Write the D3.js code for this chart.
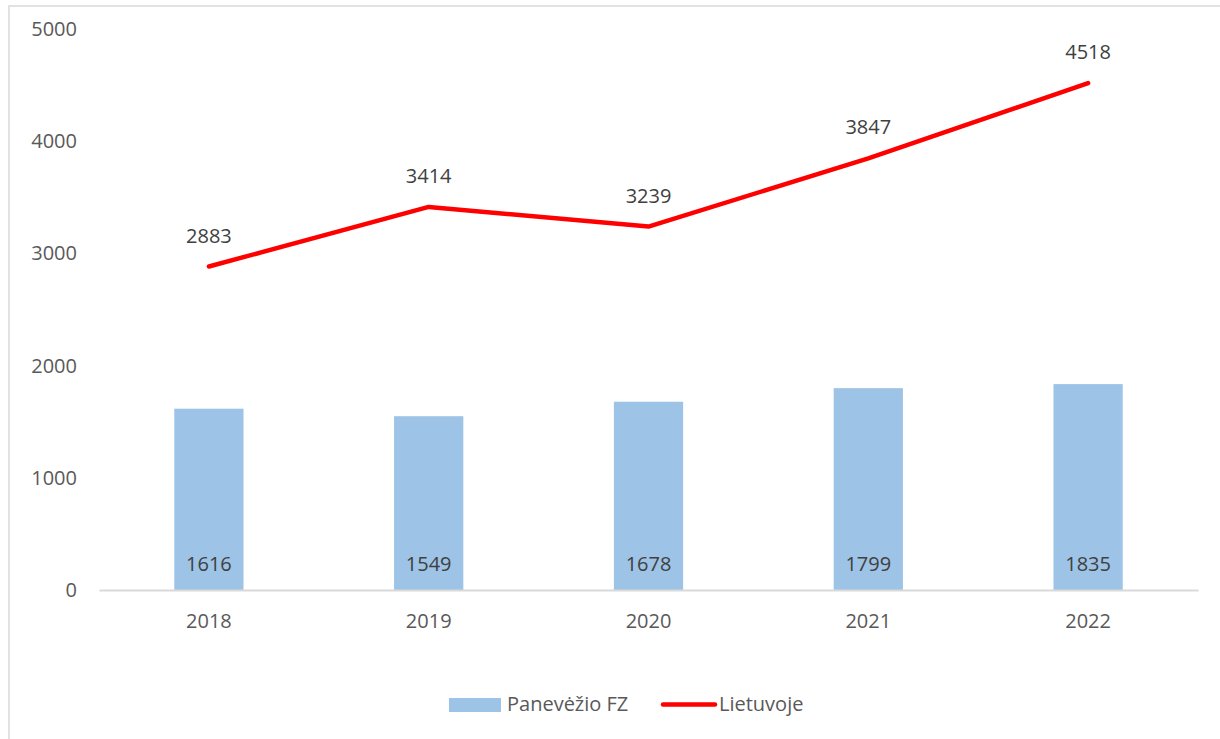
<!DOCTYPE html>
<html><head><meta charset="utf-8">
<script src="https://cdn.jsdelivr.net/npm/d3@7"></script>
<style>body{margin:0;background:#fff;}text{font-family:"Open Sans",sans-serif;}</style>
</head><body>
<svg id="c" width="1220" height="739"></svg>
<script>
const years = ["2018","2019","2020","2021","2022"];
const panevezys = [1616,1549,1678,1799,1835];
const lietuvoje = [2883,3414,3239,3847,4518];
const yTicks = [0,1000,2000,3000,4000,5000];
const seriesNames = ["Panevėžio FZ","Lietuvoje"];

const FS = "20px";
const svg = d3.select("#c");
svg.append("rect").attr("x",9).attr("y",6).attr("width",1220).attr("height",740)
  .attr("fill","#fff").attr("stroke","#d9d9d9").attr("stroke-width",1.5);

const x = d3.scaleBand().domain(years).range([99,1198]).paddingInner(0.685).paddingOuter(0.3425);
const y = d3.scaleLinear().domain([0,5000]).range([590,29]);

// y axis labels
const yAxis = d3.axisLeft(y).tickValues(yTicks).tickSize(0).tickPadding(0).tickFormat(d3.format("d"));
const gy = svg.append("g").attr("transform","translate(77,0)").call(yAxis);
gy.select(".domain").remove();
gy.selectAll("text").attr("fill","#595959").style("font-size",FS);

// bars
svg.append("g").selectAll("rect").data(years).join("rect")
  .attr("x",d=>x(d)).attr("width",x.bandwidth())
  .attr("y",(d,i)=>y(panevezys[i])).attr("height",(d,i)=>y(0)-y(panevezys[i]))
  .attr("fill","#9dc3e6");

// x axis
const xAxis = d3.axisBottom(x).tickSize(0).tickPadding(24);
const gx = svg.append("g").attr("transform","translate(0,590)").call(xAxis);
gx.select(".domain").attr("stroke","#d9d9d9").attr("stroke-width",2);
gx.selectAll("text").attr("fill","#595959").style("font-size",FS);

// bar labels
svg.append("g").selectAll("text").data(years).join("text")
  .attr("x",d=>x(d)+x.bandwidth()/2).attr("y",571)
  .attr("text-anchor","middle").attr("fill","#404040").style("font-size",FS)
  .text((d,i)=>panevezys[i]);

// line
const cx = d=>x(d)+x.bandwidth()/2;
const line = d3.line().x((d,i)=>cx(years[i])).y(d=>y(d));
svg.append("path").datum(lietuvoje).attr("d",line).attr("fill","none")
  .attr("stroke","#ff0000").attr("stroke-width",4.5).attr("stroke-linejoin","round").attr("stroke-linecap","round");

svg.append("g").selectAll("text").data(lietuvoje).join("text")
  .attr("x",(d,i)=>cx(years[i])).attr("y",d=>y(d)-24)
  .attr("text-anchor","middle").attr("fill","#404040").style("font-size",FS)
  .text(d=>d);

// legend
const lg = svg.append("g");
lg.append("rect").attr("x",449).attr("y",698).attr("width",52).attr("height",14).attr("fill","#9dc3e6");
lg.append("text").attr("x",507).attr("y",711).attr("fill","#595959").style("font-size",FS).text(seriesNames[0]);
lg.append("line").attr("x1",663).attr("x2",715).attr("y1",704.5).attr("y2",704.5)
  .attr("stroke","#ff0000").attr("stroke-width",4.5).attr("stroke-linecap","round");
lg.append("text").attr("x",719).attr("y",711).attr("fill","#595959").style("font-size",FS).text(seriesNames[1]);
</script>
</body></html>
